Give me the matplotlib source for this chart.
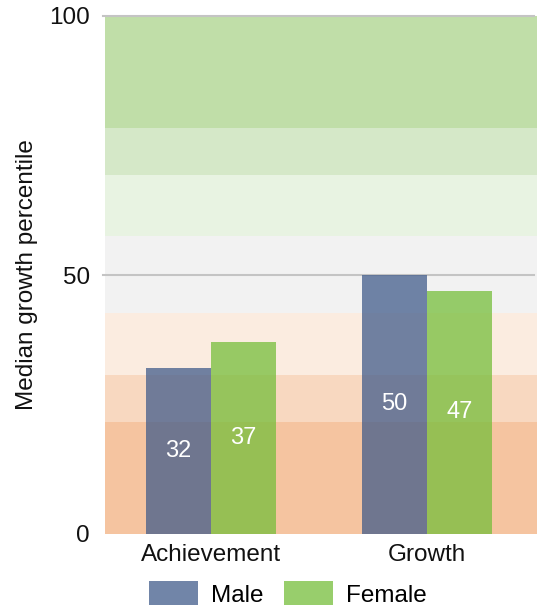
import matplotlib
matplotlib.use("Agg")
import matplotlib.pyplot as plt
import numpy as np

plt.rcParams['font.family'] = ['Liberation Sans', 'DejaVu Sans']

# datos del grafico
categorias = ["Achievement", "Growth"]
male = [32, 50]
female = [37, 47]

# franjas de fondo (desde, hasta, color)
franjas_lim = [0, 21.7, 30.7, 42.6, 57.5, 69.3, 78.4, 100]
franjas_col = ["#f5c4a0", "#f8d8c0", "#fbece0", "#f2f2f2", "#e8f3e2", "#d5e8c8", "#c0dea8"]

fig = plt.figure(figsize=(5.39, 6.11), dpi=100)
ax = fig.add_axes([105 / 539, 1 - 534 / 611, 432 / 539, 518 / 611])

for i in range(len(franjas_col)):
    ax.axhspan(franjas_lim[i], franjas_lim[i + 1], color=franjas_col[i], lw=0, zorder=0)

for y in [50, 100]:
    ax.axhline(y, xmin=-0.005, xmax=0.993, color="#c4c4c4", lw=1.5, zorder=1, clip_on=False)

x = np.arange(len(categorias))
w = 0.3
b1 = ax.bar(x - w / 2, male, w, color="#405b8a", alpha=0.74, label="Male", zorder=2, lw=0)
b2 = ax.bar(x + w / 2, female, w, color="#76be3b", alpha=0.75, label="Female", zorder=2, lw=0)

# etiquetas dentro de las barras
for barras, vals in [(b1, male), (b2, female)]:
    for r, v in zip(barras, vals):
        ax.text(r.get_x() + r.get_width() / 2, v / 2, str(v), ha="center", va="center",
                color="white", fontsize=17, zorder=3)

ax.set_xlim(-0.49, 1.51)
ax.set_ylim(0, 100)
ax.set_yticks([0, 50, 100])
ax.set_xticks(x)
ax.set_xticklabels(categorias)
ax.tick_params(length=0, labelsize=17.5, colors="#111111")
ax.tick_params(axis="y", pad=11)
ax.tick_params(axis="x", pad=7)
for s in ax.spines.values():
    s.set_visible(False)
ax.set_ylabel("Median growth percentile", fontsize=17.5, color="#111111")
ax.yaxis.set_label_coords(-0.155, 0.5)

fig.legend(handles=[b1, b2], loc="center", bbox_to_anchor=(288 / 539, 1 - 594 / 611),
           ncol=2, frameon=False, fontsize=17.5, handlelength=2.0, handleheight=1.15,
           handletextpad=0.55, columnspacing=0.85)

fig.savefig("out.png", dpi=100)
